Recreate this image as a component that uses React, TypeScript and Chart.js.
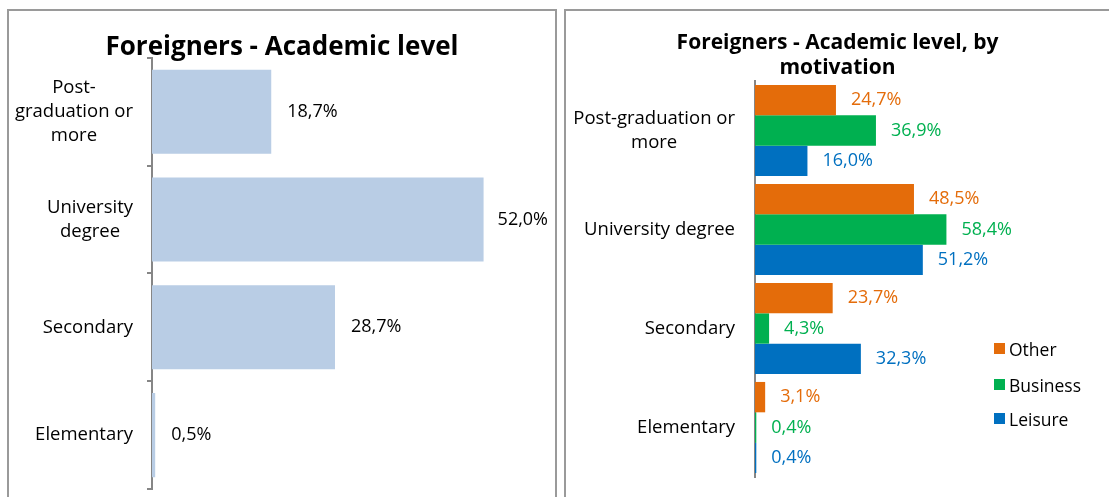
import React, { useEffect, useRef } from "react";
import { Chart, registerables } from "chart.js";

Chart.register(...registerables);

// ---- data ----
const leftCategoryLines: string[][] = [
  ["Post-", "graduation or", "more"],
  ["University", "degree"],
  ["Secondary"],
  ["Elementary"],
];
const rightCategoryLines: string[][] = [
  ["Post-graduation or", "more"],
  ["University degree"],
  ["Secondary"],
  ["Elementary"],
];
const totalShare = [18.7, 52.0, 28.7, 0.5];
const otherShare = [24.7, 48.5, 23.7, 3.1];
const businessShare = [36.9, 58.4, 4.3, 0.4];
const leisureShare = [16.0, 51.2, 32.3, 0.4];
const seriesNames = ["Other", "Business", "Leisure"];
const seriesColors = ["#E46C0A", "#00B050", "#0070C0"];
const leftBarColor = "#B9CDE5";
const leftTitle = "Foreigners - Academic level";
const rightTitle = ["Foreigners - Academic level, by", "motivation"];
const leftAxisMax = 63.2;
const rightAxisMax = 108;

const FONT = "'Open Sans', 'Noto Sans', sans-serif";
const AXIS_COLOR = "#868686";

const fmt = (v: number) => v.toFixed(1).replace(".", ",") + "%";

function categoryLabelPlugin(size: number, lineHeight: number, gap: number) {
  return {
    id: "categoryLabels",
    afterDraw(chart: any) {
      const ctx = chart.ctx;
      const yScale = chart.scales.y;
      const labels = chart.data.labels as string[][];
      ctx.save();
      ctx.font = `${size}px ${FONT}`;
      ctx.fillStyle = "#000";
      ctx.textAlign = "center";
      ctx.textBaseline = "middle";
      const right = chart.chartArea.left - gap;
      labels.forEach((ls, i) => {
        const w = Math.max(...ls.map((l) => ctx.measureText(l).width));
        const cx = right - w / 2;
        const cy = yScale.getPixelForTick(i);
        const h = ls.length * lineHeight;
        ls.forEach((l, j) => {
          ctx.fillText(l, cx, cy - h / 2 + lineHeight * (j + 0.5));
        });
      });
      ctx.restore();
    },
  };
}

function valueLabelPlugin(size: number, gap: number, colors: string[] | null, margin: number) {
  return {
    id: "valueLabels",
    afterDatasetsDraw(chart: any) {
      const ctx = chart.ctx;
      ctx.save();
      ctx.font = `${size}px ${FONT}`;
      ctx.textAlign = "left";
      ctx.textBaseline = "middle";
      chart.data.datasets.forEach((ds: any, di: number) => {
        const meta = chart.getDatasetMeta(di);
        meta.data.forEach((bar: any, i: number) => {
          const txt = fmt(ds.data[i]);
          const w = ctx.measureText(txt).width;
          let x = bar.x + gap;
          if (x + w > chart.width - margin) x = chart.width - margin - w;
          ctx.fillStyle = colors ? colors[di] : "#000";
          ctx.fillText(txt, x, bar.y);
        });
      });
      ctx.restore();
    },
  };
}

function LeftChart() {
  const ref = useRef<HTMLCanvasElement | null>(null);
  useEffect(() => {
    if (!ref.current) return;
    const chart = new Chart(ref.current, {
      type: "bar",
      data: {
        labels: leftCategoryLines as any,
        datasets: [
          {
            data: totalShare,
            backgroundColor: leftBarColor,
            categoryPercentage: 1,
            barPercentage: 0.78,
          },
        ],
      },
      options: {
        indexAxis: "y",
        responsive: false,
        animation: false,
        events: [],
        layout: { padding: { left: 0, right: 0, top: 0, bottom: 8 } },
        plugins: {
          legend: { display: false },
          tooltip: { enabled: false },
          title: {
            display: true,
            text: leftTitle,
            color: "#000",
            font: { family: FONT, size: 26, weight: "bold", lineHeight: 0.8 },
            padding: { top: 26, bottom: 0 },
          },
        },
        scales: {
          x: { display: false, min: 0, max: leftAxisMax },
          y: {
            afterFit: (s: any) => {
              s.width = 143;
            },
            ticks: { display: false },
            grid: {
              display: true,
              drawOnChartArea: false,
              drawTicks: true,
              tickLength: 5,
              color: AXIS_COLOR,
              lineWidth: 2,
              offset: true,
            },
            border: { display: true, color: AXIS_COLOR, width: 2 },
          },
        },
      },
      plugins: [categoryLabelPlugin(18.5, 24, 19), valueLabelPlugin(18, 16, null, 7)],
    } as any);
    return () => chart.destroy();
  }, []);
  return <canvas ref={ref} width={546} height={486} style={{ position: "absolute", left: 9, top: 11 }} />;
}

function RightChart() {
  const ref = useRef<HTMLCanvasElement | null>(null);
  useEffect(() => {
    if (!ref.current) return;
    const series = [otherShare, businessShare, leisureShare];
    const chart = new Chart(ref.current, {
      type: "bar",
      data: {
        labels: rightCategoryLines as any,
        datasets: series.map((d, i) => ({
          label: seriesNames[i],
          data: d,
          backgroundColor: seriesColors[i],
          categoryPercentage: 0.92,
          barPercentage: 1,
        })),
      },
      options: {
        indexAxis: "y",
        responsive: false,
        animation: false,
        events: [],
        layout: { padding: { left: 0, right: 0, top: 0, bottom: 20 } },
        plugins: {
          legend: { display: false },
          tooltip: { enabled: false },
          title: {
            display: true,
            text: rightTitle,
            color: "#000",
            font: { family: FONT, size: 21, weight: "bold", lineHeight: 1.19 },
            padding: { top: 20, bottom: 0 },
          },
        },
        scales: {
          x: { display: false, min: 0, max: rightAxisMax },
          y: {
            afterFit: (s: any) => {
              s.width = 189;
            },
            ticks: { display: false },
            grid: { display: false },
            border: { display: true, color: AXIS_COLOR, width: 2 },
          },
        },
      },
      plugins: [categoryLabelPlugin(18.5, 24, 20), valueLabelPlugin(18, 15, seriesColors, 4)],
    } as any);
    return () => chart.destroy();
  }, []);
  return <canvas ref={ref} width={543} height={486} style={{ position: "absolute", left: 566, top: 11 }} />;
}

function Legend() {
  const tops = [343, 379, 413];
  return (
    <>
      {seriesNames.map((name, i) => (
        <div
          key={name}
          style={{
            position: "absolute",
            left: 994,
            top: tops[i] - 6,
            height: 23,
            display: "flex",
            alignItems: "center",
            fontFamily: FONT,
            fontSize: 17.5,
            color: "#000",
            whiteSpace: "nowrap",
          }}
        >
          <span style={{ display: "inline-block", width: 11, height: 11, background: seriesColors[i], marginRight: 4 }} />
          <span>{name}</span>
        </div>
      ))}
    </>
  );
}

export default function App() {
  return (
    <div
      style={{
        position: "absolute",
        left: 0,
        top: 0,
        width: 1109,
        height: 497,
        overflow: "hidden",
        background: "#fff",
      }}
    >
      <div
        style={{
          position: "absolute",
          left: 7,
          top: 9,
          width: 550,
          height: 520,
          boxSizing: "border-box",
          border: "2px solid #9a9a9a",
        }}
      />
      <div
        style={{
          position: "absolute",
          left: 564,
          top: 9,
          width: 600,
          height: 520,
          boxSizing: "border-box",
          border: "2px solid #9a9a9a",
        }}
      />
      <LeftChart />
      <RightChart />
      <Legend />
    </div>
  );
}
